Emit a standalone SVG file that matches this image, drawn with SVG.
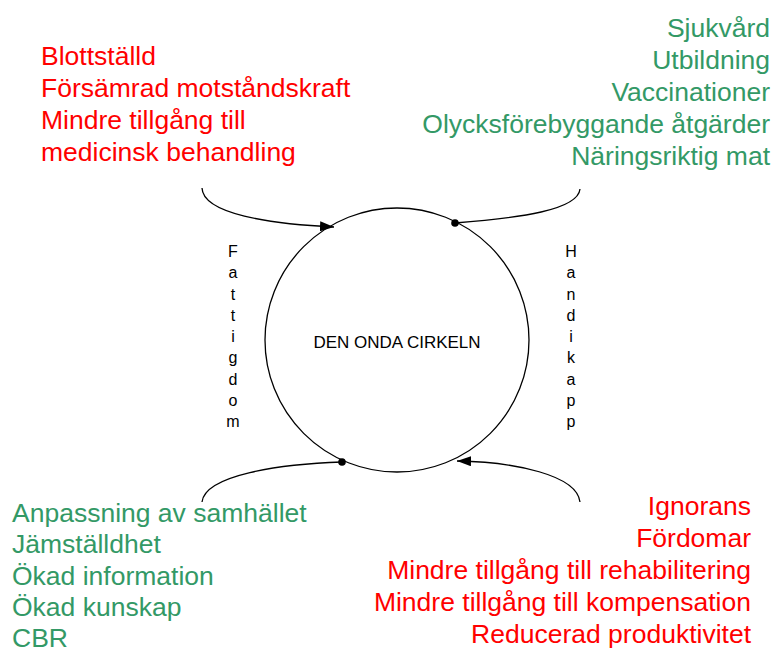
<svg xmlns="http://www.w3.org/2000/svg" width="775" height="653" viewBox="0 0 775 653">
<style>
.t{font-family:"Liberation Sans",Arial,sans-serif;font-size:26.5px}
.r{fill:#FF0000}
.g{fill:#339966}
.e{text-anchor:end}
.v{font-family:"Liberation Sans",Arial,sans-serif;font-size:16px;fill:#000;text-anchor:middle}
.c{fill:none;stroke:#000;stroke-width:1.3}
</style>
<defs>
<marker id="arr" viewBox="0 0 10 10" refX="10" refY="5" markerWidth="14" markerHeight="10" markerUnits="userSpaceOnUse" orient="auto" preserveAspectRatio="none">
<path d="M0,0 L10,5 L0,10 Z" fill="#000"/>
</marker>
</defs>
<rect width="775" height="653" fill="#fff"/>
<g id="circle">
<circle cx="397" cy="340" r="132" fill="none" stroke="#000" stroke-width="1.3"/>
<text x="397" y="348" class="v" style="font-size:17px">DEN ONDA CIRKELN</text>
</g>
<g id="fattigdom" class="v">
<text x="233" y="257">F</text>
<text x="233" y="278">a</text>
<text x="233" y="299.5">t</text>
<text x="233" y="320.5">t</text>
<text x="233" y="342">i</text>
<text x="233" y="363">g</text>
<text x="233" y="384.5">d</text>
<text x="233" y="405.5">o</text>
<text x="233" y="427">m</text>
</g>
<g id="handikapp" class="v">
<text x="571" y="257">H</text>
<text x="571" y="278">a</text>
<text x="571" y="299.5">n</text>
<text x="571" y="320.5">d</text>
<text x="571" y="342">i</text>
<text x="571" y="363">k</text>
<text x="571" y="384.5">a</text>
<text x="571" y="405.5">p</text>
<text x="571" y="427">p</text>
</g>
<g id="connectors">
<path class="c" d="M202,188 C203,214 270,224 334,227" marker-end="url(#arr)"/>
<path class="c" d="M580,189 C578,210 520,218 455,223"/>
<circle cx="455" cy="223" r="3.8" fill="#000"/>
<path class="c" d="M202,502 C205,475 280,464 342,462"/>
<circle cx="342" cy="462" r="3.8" fill="#000"/>
<path class="c" d="M580,502 C577,475 515,462 457,461" marker-end="url(#arr)"/>
</g>
<g id="topleft" class="t r">
<text x="41" y="65">Blottställd</text>
<text x="41" y="97">Försämrad motståndskraft</text>
<text x="41" y="129">Mindre tillgång till</text>
<text x="41" y="161">medicinsk behandling</text>
</g>
<g id="topright" class="t g e">
<text x="770" y="37">Sjukvård</text>
<text x="770" y="69">Utbildning</text>
<text x="770" y="101">Vaccinationer</text>
<text x="770" y="133">Olycksförebyggande åtgärder</text>
<text x="770" y="165">Näringsriktig mat</text>
</g>
<g id="bottomleft" class="t g">
<text x="12" y="522">Anpassning av samhället</text>
<text x="12" y="553">Jämställdhet</text>
<text x="12" y="585">Ökad information</text>
<text x="12" y="616">Ökad kunskap</text>
<text x="12" y="647">CBR</text>
</g>
<g id="bottomright" class="t r e">
<text x="751" y="515">Ignorans</text>
<text x="751" y="547">Fördomar</text>
<text x="751" y="579">Mindre tillgång till rehabilitering</text>
<text x="751" y="611">Mindre tillgång till kompensation</text>
<text x="751" y="643">Reducerad produktivitet</text>
</g>
</svg>
